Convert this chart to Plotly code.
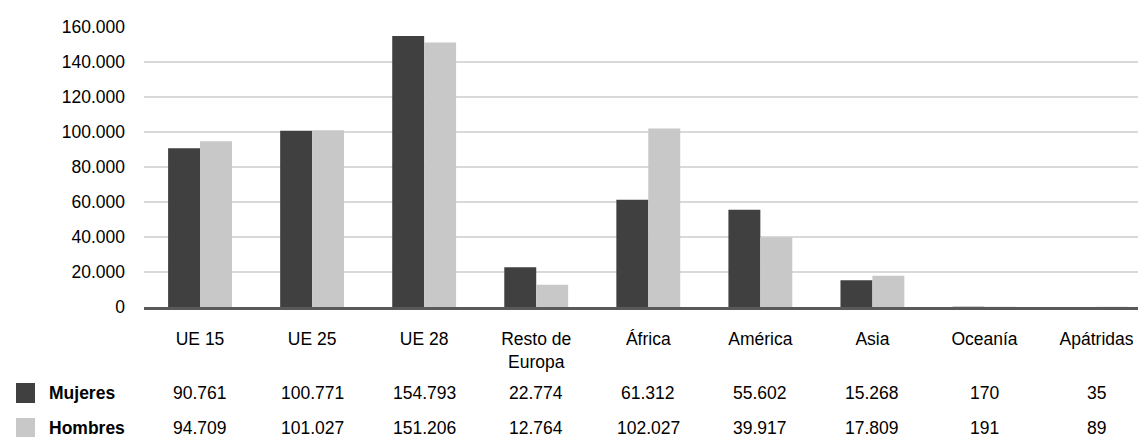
import plotly.graph_objects as go

categories = ["UE 15", "UE 25", "UE 28", "Resto de<br>Europa", "África", "América", "Asia", "Oceanía", "Apátridas"]
mujeres = [90761, 100771, 154793, 22774, 61312, 55602, 15268, 170, 35]
hombres = [94709, 101027, 151206, 12764, 102027, 39917, 17809, 191, 89]
series_names = ["Mujeres", "Hombres"]
y_ticks = [0, 20000, 40000, 60000, 80000, 100000, 120000, 140000, 160000]
y_tick_labels = ["0", "20.000", "40.000", "60.000", "80.000", "100.000", "120.000", "140.000", "160.000"]

DARK = "#404040"
LIGHT = "#c8c8c8"
FONT = "Liberation Sans, Arial, sans-serif"
FS = 17.5
W, H = 1138, 437
ML, MR, MT, MB = 144, 0, 27, 130
PW = W - ML - MR
PH = H - MT - MB


def fmt(v):
    return f"{v:,}".replace(",", ".")


fig = go.Figure()
fig.add_trace(go.Bar(x=list(range(len(categories))), y=mujeres, name=series_names[0],
                     marker=dict(color=DARK, line=dict(width=0))))
fig.add_trace(go.Bar(x=list(range(len(categories))), y=hombres, name=series_names[1],
                     marker=dict(color=LIGHT, line=dict(width=0))))

annotations = []
row_px = [393, 428]  # pixel centre of table rows
for r, (vals, name) in enumerate(zip([mujeres, hombres], series_names)):
    for i, v in enumerate(vals):
        annotations.append(dict(x=i, y=0, xref="x", yref="paper", text=fmt(v),
                                showarrow=False, xanchor="center", yanchor="middle",
                                yshift=-(row_px[r] - (MT + PH)),
                                font=dict(family=FONT, size=FS, color="#000000")))
    annotations.append(dict(x=(47 - ML) / PW, y=0, xref="paper", yref="paper",
                            text=f"<b>{name}</b>", showarrow=False, xanchor="left",
                            yanchor="middle", yshift=-(row_px[r] - (MT + PH)),
                            font=dict(family=FONT, size=FS, color="#000000")))

shapes = []
for r, col in enumerate([DARK, LIGHT]):
    cy = row_px[r]
    shapes.append(dict(type="rect", xref="paper", yref="paper",
                       x0=(16 - ML) / PW, x1=(35 - ML) / PW,
                       y0=(MT + PH - (cy - 10)) / PH, y1=(MT + PH - (cy + 10)) / PH,
                       fillcolor=col, line=dict(width=0), layer="above"))

fig.update_layout(
    width=W, height=H,
    margin=dict(l=ML, r=MR, t=MT, b=MB, pad=0, autoexpand=False),
    paper_bgcolor="white", plot_bgcolor="white",
    barmode="group", bargap=0.43, bargroupgap=0,
    showlegend=False,
    font=dict(family=FONT, size=FS, color="#000000"),
    xaxis=dict(tickmode="array", tickvals=list(range(len(categories))), ticktext=categories,
               range=[-0.5, len(categories) - 0.63], showgrid=False, showline=True,
               linecolor="#595959", linewidth=3, ticks="", ticklabelstandoff=14,
               automargin=False,
               tickfont=dict(family=FONT, size=FS, color="#000000")),
    yaxis=dict(range=[0, 160000], tickmode="array", tickvals=y_ticks, ticktext=y_tick_labels,
               showgrid=True, gridcolor="#d9d9d9", gridwidth=2, zeroline=False,
               showline=False, ticks="", ticklabelstandoff=18, automargin=False,
               tickfont=dict(family=FONT, size=FS, color="#000000")),
    annotations=annotations,
    shapes=shapes,
)

fig.write_html("out.html", config={"displayModeBar": False, "staticPlot": True},
               post_script="document.body.style.margin='0';document.body.style.overflow='hidden';")
